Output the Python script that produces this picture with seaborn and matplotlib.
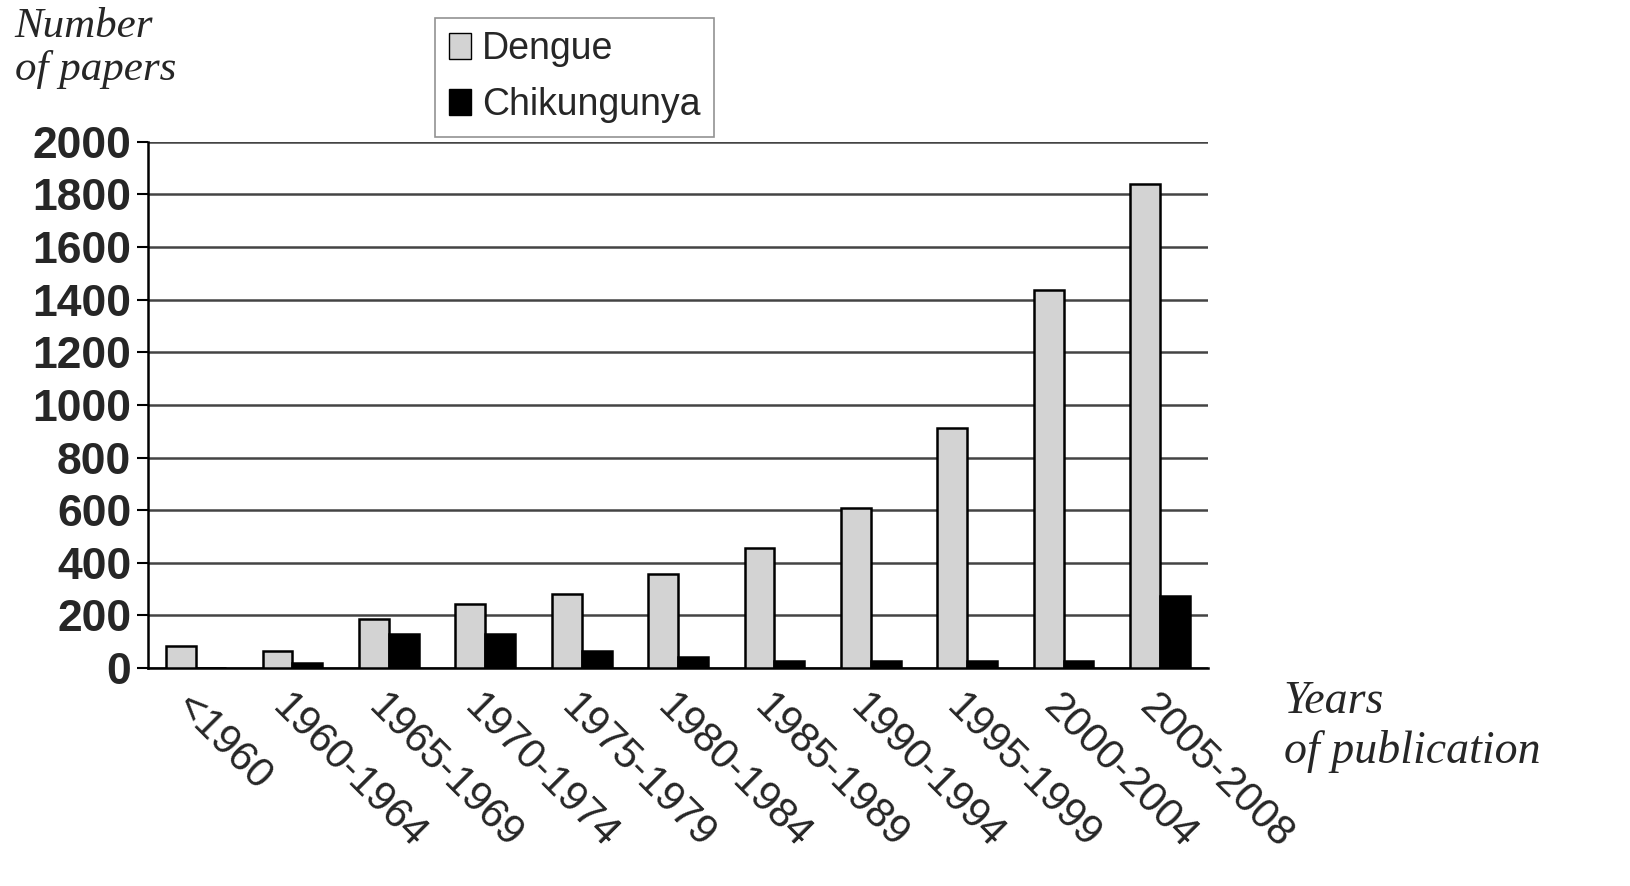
import matplotlib
matplotlib.use('Agg')
import matplotlib.pyplot as plt
import seaborn as sns
import pandas as pd
import numpy as np
from matplotlib.patches import Patch

periods = ['<1960', '1960-1964', '1965-1969', '1970-1974', '1975-1979', '1980-1984',
           '1985-1989', '1990-1994', '1995-1999', '2000-2004', '2005-2008']
dengue = [84, 65, 186, 243, 281, 357, 456, 608, 912, 1437, 1840]
chikungunya = [0, 20, 130, 130, 65, 42, 27, 27, 27, 27, 274]
y_ticks = [0, 200, 400, 600, 800, 1000, 1200, 1400, 1600, 1800, 2000]

df = pd.DataFrame({
    'period': periods * 2,
    'papers': dengue + chikungunya,
    'disease': ['Dengue'] * len(periods) + ['Chikungunya'] * len(periods),
})

sns.set_style('white')
plt.rcParams['font.family'] = ['Liberation Sans', 'DejaVu Sans']

fig = plt.figure(figsize=(16.31, 8.86), dpi=100)
ax = fig.add_axes([0.0907, 0.246, 0.650, 0.594])

sns.barplot(data=df, x='period', y='papers', hue='disease', order=periods,
            hue_order=['Dengue', 'Chikungunya'],
            palette={'Dengue': '#d3d3d3', 'Chikungunya': '#000000'},
            width=0.62, edgecolor='black', linewidth=1.8, ax=ax, legend=False,
            zorder=3)

ax.set_ylim(0, 2000)
ax.set_xlim(-0.5, len(periods) - 0.5)
ax.set_yticks(y_ticks)
ax.set_yticklabels([str(v) for v in y_ticks], fontsize=32, fontweight='bold')
ax.yaxis.grid(True, color='#444444', linewidth=1.8, zorder=0)
ax.set_axisbelow(True)

ax.set_xticks(range(len(periods)))
ax.set_xticklabels(periods, rotation=-45, ha='left', va='top',
                   rotation_mode='anchor', fontsize=30)
ax.set_xticks(np.arange(-0.5, len(periods)), minor=True)
ax.tick_params(axis='x', which='major', length=0, pad=14)
ax.tick_params(axis='x', which='minor', length=8, width=1.5, color='black', direction='out')
ax.tick_params(axis='y', length=8, width=1.5, color='black', direction='out', left=True, pad=4)

for s in ['top', 'right']:
    ax.spines[s].set_visible(False)
for s in ['left', 'bottom']:
    ax.spines[s].set_color('black')
    ax.spines[s].set_linewidth(1.8)

ax.set_xlabel('')
ax.set_ylabel('')

fig.text(0.009, 0.992, 'Number\nof papers', family='Liberation Serif', style='italic',
         fontsize=31, va='top', ha='left', linespacing=1.15)
fig.text(0.787, 0.232, 'Years\nof publication', family='Liberation Serif', style='italic',
         fontsize=33, va='top', ha='left', linespacing=1.2)

handles = [Patch(facecolor='#d3d3d3', edgecolor='black', label='Dengue'),
           Patch(facecolor='black', edgecolor='black', label='Chikungunya')]
leg = fig.legend(handles=handles, loc='upper left', bbox_to_anchor=(0.267, 0.98),
                 fontsize=27, frameon=True, fancybox=False, handlelength=0.6,
                 handleheight=0.7, handletextpad=0.3, labelspacing=0.55,
                 borderpad=0.35, borderaxespad=0)
leg.get_frame().set_edgecolor('#777777')
leg.get_frame().set_linewidth(1.2)

fig.savefig('out.png', dpi=100)
